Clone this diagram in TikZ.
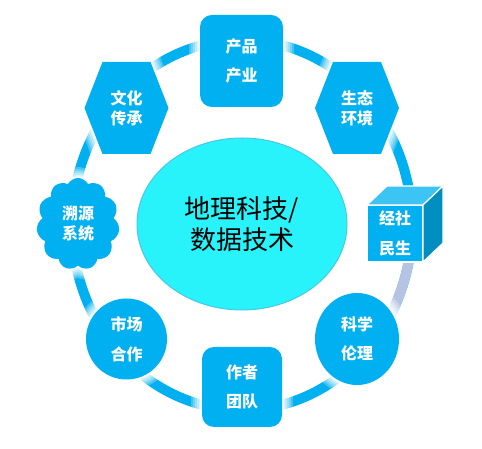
\documentclass[tikz,border=0pt]{standalone}
\usepackage{fontspec}
\usepackage{tikz}
\usetikzlibrary{shapes.geometric,shapes.symbols,calc}
\newfontfamily\cjk{Noto Sans CJK SC}
\definecolor{ringblue}{RGB}{0,176,240}
\definecolor{nodeblue}{RGB}{0,176,240}
\definecolor{coreaqua}{RGB}{40,242,250}
\definecolor{coreedge}{RGB}{70,200,235}
\definecolor{ringgrey}{RGB}{180,196,226}
\definecolor{cubetop}{RGB}{60,196,244}
\definecolor{cubeside}{RGB}{0,142,192}

\begin{document}
\begin{tikzpicture}[x=1pt, y=1pt,
    halo/.style={preaction={draw=white, line join=round, line width=22pt, opacity=0.25},
                 preaction={draw=white, line join=round, line width=18pt, opacity=0.25},
                 preaction={draw=white, line join=round, line width=14pt, opacity=0.3},
                 preaction={draw=white, line join=round, line width=10pt, opacity=0.35},
                 preaction={draw=white, line join=round, line width=6pt, opacity=0.5},
                 preaction={draw=white, line join=round, line width=3pt}},
    item/.style={fill=nodeblue, inner sep=0pt},
    lbl/.style={text=white, align=center, font=\cjk\bfseries\fontsize{16}{29}\selectfont},
    lbltight/.style={text=white, align=center, font=\cjk\bfseries\fontsize{16}{20}\selectfont},
    ring/.style={line width=10pt}
]
    \useasboundingbox (0,0) rectangle (482,449);

    % Outer ring
    \coordinate (ringc) at (242,224);
    \draw[ring, ringblue] (ringc) ellipse[x radius=170, y radius=185];
    \draw[ring, ringgrey] (ringc) ++(-8:170 and 185) arc[start angle=-8, end angle=-40, x radius=170, y radius=185];

    % Top box
    \node[item, halo, rounded corners=12pt, minimum width=83pt, minimum height=92pt, lbl,
          font=\cjk\bfseries\fontsize{16}{28}\selectfont] (prod) at (241.5,388) {产品\\产业};

    % Hexagons
    \coordinate (cul) at (126.5,341);
    \fill[nodeblue, halo, shift={(cul)}] (-42,0) -- (-24,46) -- (24,46) -- (42,0) -- (24,-46) -- (-24,-46) -- cycle;
    \node[lbltight] (cul_t) at (cul) {文化\\传承};

    \coordinate (eco) at (357,341);
    \fill[nodeblue, halo, shift={(eco)}] (-42,0) -- (-24,46) -- (24,46) -- (42,0) -- (24,-46) -- (-24,-46) -- cycle;
    \node[lbltight] (eco_t) at (eco) {生态\\环境};

    % Cloud
    \node[cloud, item, halo, cloud puffs=11, cloud puff arc=125, cloud ignores aspect,
          minimum width=83pt, minimum height=92pt, lbltight] (trace) at (78,225) {溯源\\系统};

    % Cube
    \coordinate (soc) at (395,215.5);
    \filldraw[draw=white, fill=nodeblue, line width=1.2pt] ($(soc)+(-28,-28.5)$) rectangle ($(soc)+(28,28.5)$);
    \filldraw[draw=white, fill=cubetop, line width=1.2pt] ($(soc)+(-28,28.5)$) -- ++(20,19) -- ++(56,0) -- ++(-20,-19) -- cycle;
    \filldraw[draw=white, fill=cubeside, line width=1.2pt] ($(soc)+(28,28.5)$) -- ++(20,19) -- ++(0,-57) -- ++(-20,-19) -- cycle;
    \node[lbl, font=\cjk\bfseries\fontsize{16}{30}\selectfont] (soc_t) at (soc) {经社\\民生};

    % Round items
    \node[item, halo, ellipse, minimum width=84pt, minimum height=92pt, lbl] (ethic) at (357,110) {科学\\伦理};
    \node[item, halo, circle, minimum size=81pt, lbl,
          font=\cjk\bfseries\fontsize{16}{30}\selectfont] (mkt) at (126.5,110) {市场\\合作};

    % Bottom box
    \node[item, halo, rounded corners=12pt, minimum width=80pt, minimum height=80pt, lbl] (team) at (242,62) {作者\\团队};

    % Centre
    \node[ellipse, fill=coreaqua, draw=coreedge, line width=1pt, minimum width=210pt, minimum height=172pt,
          text=black, align=center, font=\cjk\fontsize{26}{31}\selectfont] (core) at (242,225) {地理科技/\\数据技术};

\end{tikzpicture}
\end{document}
